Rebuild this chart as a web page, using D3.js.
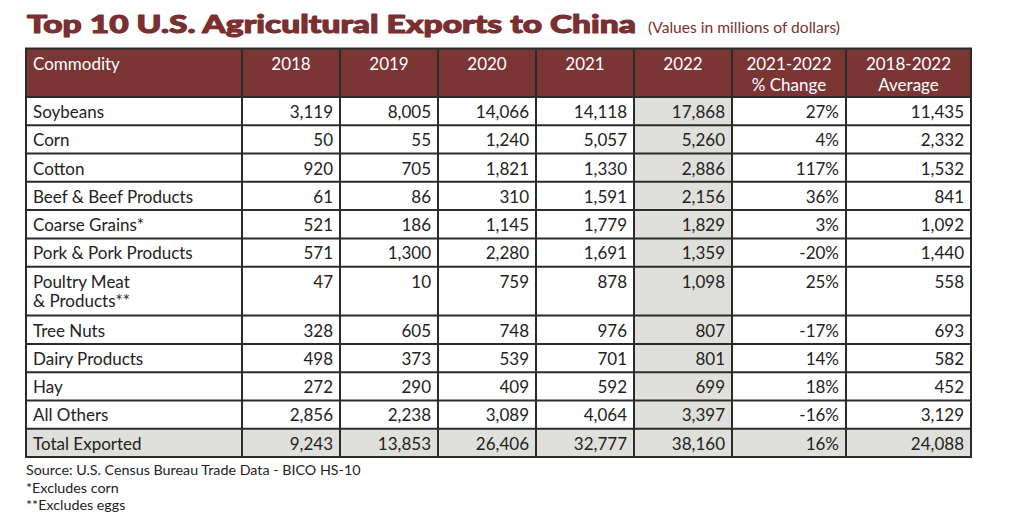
<!DOCTYPE html>
<html><head><meta charset="utf-8">
<script src="https://cdn.jsdelivr.net/npm/d3@7"></script>
<style>
html,body{margin:0;padding:0;background:#fff;}
svg{display:block;font-family:Lato,"Open Sans",sans-serif;}
</style></head>
<body>
<svg id="chart" width="1024" height="528"></svg>
<script>
const title = "Top 10 U.S. Agricultural Exports to China";
const subtitle = "(Values in millions of dollars)";
const headers = [["Commodity"],["2018"],["2019"],["2020"],["2021"],["2022"],["2021-2022","% Change"],["2018-2022","Average"]];
const commodities = [["Soybeans"],["Corn"],["Cotton"],["Beef & Beef Products"],["Coarse Grains*"],["Pork & Pork Products"],["Poultry Meat","& Products**"],["Tree Nuts"],["Dairy Products"],["Hay"],["All Others"],["Total Exported"]];
const v2018 = [3119,50,920,61,521,571,47,328,498,272,2856,9243];
const v2019 = [8005,55,705,86,186,1300,10,605,373,290,2238,13853];
const v2020 = [14066,1240,1821,310,1145,2280,759,748,539,409,3089,26406];
const v2021 = [14118,5057,1330,1591,1779,1691,878,976,701,592,4064,32777];
const v2022 = [17868,5260,2886,2156,1829,1359,1098,807,801,699,3397,38160];
const pctChange = [27,4,117,36,3,-20,25,-17,14,18,-16,16];
const avg1822 = [11435,2332,1532,841,1092,1440,558,693,582,452,3129,24088];
const footnotes = ["Source: U.S. Census Bureau Trade Data - BICO HS-10","*Excludes corn","**Excludes eggs"];

const svg = d3.select("#chart");
const colWidths = [216,98,98,98,98,98,114,125];
const colEdges = d3.cumsum([0].concat(colWidths));
const x = d3.scaleLinear().domain([0, colEdges[colEdges.length-1]]).range([26, 26+colEdges[colEdges.length-1]]);
const rowUnits = commodities.map(c => c.length > 1 ? 1.73 : 1);
const rowEdges = d3.cumsum([0].concat(rowUnits));
const y = d3.scaleLinear().domain([0, rowEdges[rowEdges.length-1]]).range([97, 457]);
const headTop = 48.5, headBot = 97;

const fmt = d3.format(",");
const cols = [null, v2018, v2019, v2020, v2021, v2022, pctChange, avg1822];
const RED = "#7b3535", GRAY = "#dfdfdb", LINE = "#2b2b2b", TXT = "#222";

// title
svg.append("text").attr("x",27).attr("y",33).attr("fill","#7a2f30")
  .attr("stroke","#7a2f30").attr("stroke-width",1.1).attr("stroke-linejoin","round")
  .attr("font-size",25.5).attr("font-weight",900)
  .attr("textLength",609).attr("lengthAdjust","spacingAndGlyphs").text(title);
svg.append("text").attr("x",648).attr("y",33).attr("fill","#7a2f30")
  .attr("font-size",15.5).attr("textLength",192).attr("lengthAdjust","spacingAndGlyphs").text(subtitle);

// header
svg.append("rect").attr("x",x(0)).attr("y",headTop).attr("width",x(colEdges[8])-x(0)).attr("height",headBot-headTop).attr("fill",RED);
headers.forEach((h,i)=>{
  const t = svg.append("text").attr("fill","#fff").attr("font-size",17)
    .attr("text-anchor", i===0 ? "start" : "middle");
  const tx = i===0 ? x(colEdges[0])+7 : (x(colEdges[i])+x(colEdges[i+1]))/2;
  h.forEach((line,k)=> t.append("tspan").attr("x",tx).attr("y",69.5+k*21.5).text(line));
});

// body fills
commodities.forEach((c,r)=>{
  const isTotal = r === commodities.length-1;
  colWidths.forEach((w,ci)=>{
    const fill = (isTotal || ci===5) ? GRAY : "#fff";
    svg.append("rect").attr("x",x(colEdges[ci])).attr("y",y(rowEdges[r]))
      .attr("width",x(colEdges[ci+1])-x(colEdges[ci])).attr("height",y(rowEdges[r+1])-y(rowEdges[r]))
      .attr("fill",fill);
  });
  const t = svg.append("text").attr("fill",TXT).attr("font-size",17);
  c.forEach((line,k)=> t.append("tspan").attr("x",x(0)+7).attr("y",y(rowEdges[r])+21+k*19.5).text(line));
  for(let ci=1; ci<cols.length; ci++){
    const v = cols[ci][r];
    svg.append("text").attr("fill",TXT).attr("font-size",17).attr("text-anchor","end")
      .attr("x",x(colEdges[ci+1])-7).attr("y",y(rowEdges[r])+21)
      .text(ci===6 ? v+"%" : fmt(v));
  }
});

// grid lines
const g = svg.append("g").attr("stroke",LINE).attr("stroke-width",2).attr("fill","none");
colEdges.forEach(e=> g.append("line").attr("x1",x(e)).attr("x2",x(e)).attr("y1",headTop).attr("y2",y(rowEdges[rowEdges.length-1])));
g.append("line").attr("x1",x(0)-1).attr("x2",x(colEdges[8])+1).attr("y1",headTop).attr("y2",headTop);
rowEdges.forEach(e=> g.append("line").attr("x1",x(0)-1).attr("x2",x(colEdges[8])+1).attr("y1",y(e)).attr("y2",y(e)));

// footnotes
footnotes.forEach((f,i)=> svg.append("text").attr("x",26).attr("y",475+i*17.5).attr("fill",TXT).attr("font-size",14.3).text(f));
</script>
</body></html>
